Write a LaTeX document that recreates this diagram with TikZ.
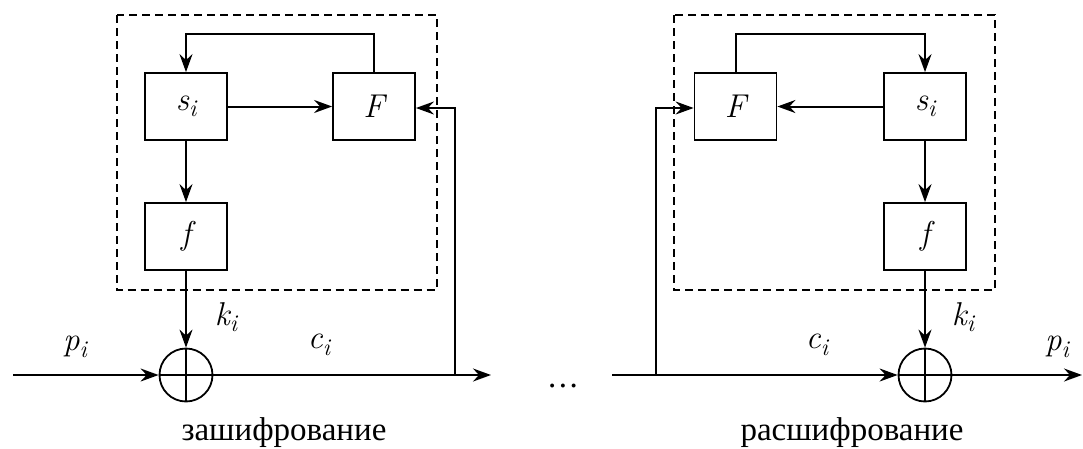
\documentclass[tikz,border=0pt]{standalone}
\usepackage{fontspec}
\setmainfont{Liberation Serif}
\newfontfamily\labfont{Latin Modern Roman}
\usetikzlibrary{arrows.meta}
\newcommand\labsub[2]{{\labfont\itshape #1\raisebox{-0.2em}{\fontsize{24}{26}\selectfont #2}}}
\newcommand\labone[1]{{\labfont\itshape #1}}
\begin{document}
\begin{tikzpicture}[x=1pt,y=-1pt,
  line width=2pt,
  every node/.style={font=\fontsize{33}{38}\selectfont},
  blockbox/.style={draw,line width=1.8pt,minimum width=82pt,minimum height=67pt,inner sep=0pt},
  xorc/.style={draw,circle,line width=1.8pt,minimum size=53pt,inner sep=0pt},
  arr/.style={-{Stealth[length=18pt,width=13pt,inset=6pt]}},
  groupbox/.style={draw,dash pattern=on 8pt off 5pt,line width=1.8pt},
  lab/.style={inner sep=0pt}]
\useasboundingbox (0,0) rectangle (1083,448);
% ---------- left: encryption ----------
\node[blockbox] (s1) at (186,106.5) {\labsub{s}{i}};
\node[blockbox] (F1) at (374,106.5) {\labone{F}};
\node[blockbox] (f1) at (186,236.5) {\labone{f}};
\node[xorc] (x1) at (186,375) {};
\draw (x1.north) -- (x1.south);
\draw (x1.west) -- (x1.east);
\draw[groupbox] (116.7,15) rectangle (436.7,290);
\coordinate (in1) at (13,375);
\coordinate (out1) at (491,375);
\coordinate (tap1) at (455,375);
\coordinate (tapt1) at (455,108);
\coordinate (fbA1) at (F1.north |- 0,34);
\coordinate (fbB1) at (s1.north |- 0,34);
\draw[arr] (F1.north) -- (fbA1) -- (fbB1) -- (s1.north);
\draw[arr] (s1.east) -- (F1.west);
\draw[arr] (s1.south) -- (f1.north);
\draw[arr] (f1.south) -- (x1.north);
\draw[arr] (in1) -- (x1.west);
\draw[arr] (x1.east) -- (out1);
\draw[arr] (tap1) -- (tapt1) -- (F1.east |- tapt1);
\node[lab] (p1) at (75,347) {\labsub{p}{i}};
\node[lab] (k1) at (226,317) {\labsub{k}{i}};
\node[lab] (c1) at (319,345) {\labsub{c}{i}};
\node[lab] (cap1) at (284,433) {зашифрование};
% ---------- dots ----------
\node[lab] (dots) at (563,386) {.\kern2.6pt.\kern2.6pt.};
% ---------- right: decryption ----------
\node[blockbox] (F2) at (735.5,106.5) {\labone{F}};
\node[blockbox] (s2) at (925,106.5) {\labsub{s}{i}};
\node[blockbox] (f2) at (925,236.5) {\labone{f}};
\node[xorc] (x2) at (925,375) {};
\draw (x2.north) -- (x2.south);
\draw (x2.west) -- (x2.east);
\draw[groupbox] (674,15) rectangle (995,290);
\coordinate (in2) at (612,375);
\coordinate (out2) at (1082,375);
\coordinate (tap2) at (656,375);
\coordinate (tapt2) at (656,108);
\coordinate (fbA2) at (F2.north |- 0,34);
\coordinate (fbB2) at (s2.north |- 0,34);
\draw[arr] (F2.north) -- (fbA2) -- (fbB2) -- (s2.north);
\draw[arr] (s2.west) -- (F2.east);
\draw[arr] (s2.south) -- (f2.north);
\draw[arr] (f2.south) -- (x2.north);
\draw[arr] (in2) -- (x2.west);
\draw[arr] (x2.east) -- (out2);
\draw[arr] (tap2) -- (tapt2) -- (F2.west |- tapt2);
\node[lab] (c2) at (817,345) {\labsub{c}{i}};
\node[lab] (k2) at (963,317) {\labsub{k}{i}};
\node[lab] (p2) at (1057,347) {\labsub{p}{i}};
\node[lab] (cap2) at (852,433) {расшифрование};
\end{tikzpicture}
\end{document}
